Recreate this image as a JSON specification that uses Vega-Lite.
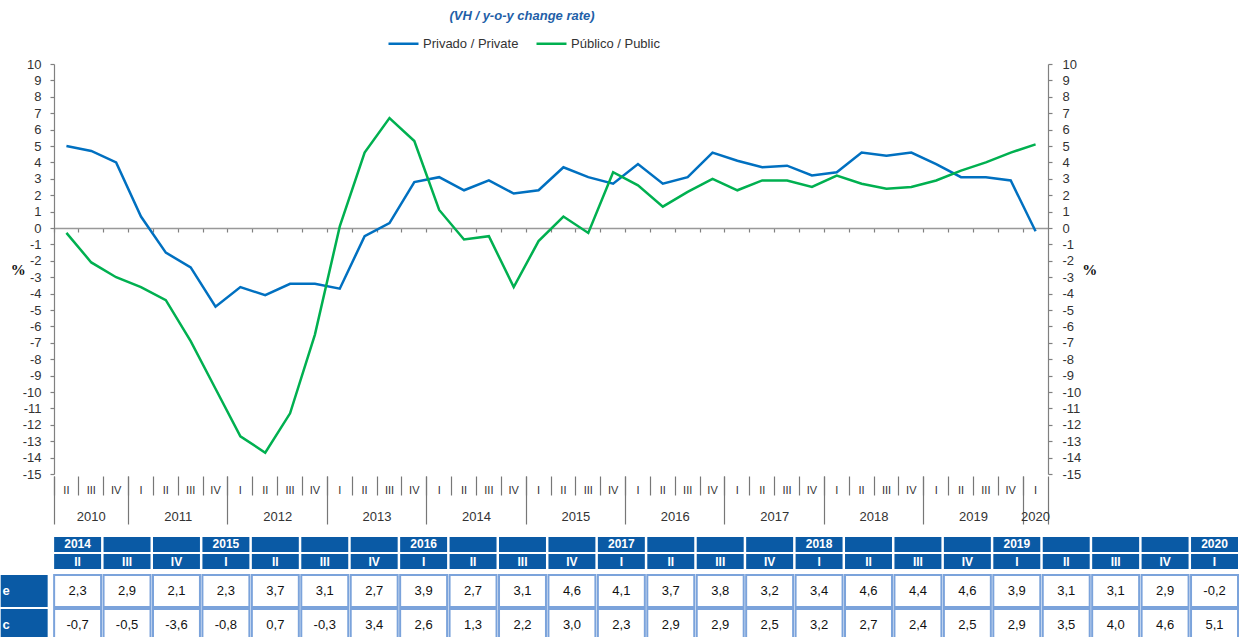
{
  "$schema": "https://vega.github.io/schema/vega-lite/v6.json",
  "padding": {"left": 0, "top": 10, "right": 0, "bottom": 0},
  "config": {
    "locale": {"number": {"decimal": ",", "thousands": ".", "grouping": [3], "currency": ["", " €"], "minus": "-"}},
    "view": {"stroke": null},
    "font": "Liberation Sans"
  },
  "datasets": {
    "lines": [
      {"quarter": "2010 II", "series": "Privado / Private", "value": 5.0},
      {"quarter": "2010 III", "series": "Privado / Private", "value": 4.7},
      {"quarter": "2010 IV", "series": "Privado / Private", "value": 4.0},
      {"quarter": "2011 I", "series": "Privado / Private", "value": 0.7},
      {"quarter": "2011 II", "series": "Privado / Private", "value": -1.5},
      {"quarter": "2011 III", "series": "Privado / Private", "value": -2.4},
      {"quarter": "2011 IV", "series": "Privado / Private", "value": -4.8},
      {"quarter": "2012 I", "series": "Privado / Private", "value": -3.6},
      {"quarter": "2012 II", "series": "Privado / Private", "value": -4.1},
      {"quarter": "2012 III", "series": "Privado / Private", "value": -3.4},
      {"quarter": "2012 IV", "series": "Privado / Private", "value": -3.4},
      {"quarter": "2013 I", "series": "Privado / Private", "value": -3.7},
      {"quarter": "2013 II", "series": "Privado / Private", "value": -0.5},
      {"quarter": "2013 III", "series": "Privado / Private", "value": 0.3},
      {"quarter": "2013 IV", "series": "Privado / Private", "value": 2.8},
      {"quarter": "2014 I", "series": "Privado / Private", "value": 3.1},
      {"quarter": "2014 II", "series": "Privado / Private", "value": 2.3},
      {"quarter": "2014 III", "series": "Privado / Private", "value": 2.9},
      {"quarter": "2014 IV", "series": "Privado / Private", "value": 2.1},
      {"quarter": "2015 I", "series": "Privado / Private", "value": 2.3},
      {"quarter": "2015 II", "series": "Privado / Private", "value": 3.7},
      {"quarter": "2015 III", "series": "Privado / Private", "value": 3.1},
      {"quarter": "2015 IV", "series": "Privado / Private", "value": 2.7},
      {"quarter": "2016 I", "series": "Privado / Private", "value": 3.9},
      {"quarter": "2016 II", "series": "Privado / Private", "value": 2.7},
      {"quarter": "2016 III", "series": "Privado / Private", "value": 3.1},
      {"quarter": "2016 IV", "series": "Privado / Private", "value": 4.6},
      {"quarter": "2017 I", "series": "Privado / Private", "value": 4.1},
      {"quarter": "2017 II", "series": "Privado / Private", "value": 3.7},
      {"quarter": "2017 III", "series": "Privado / Private", "value": 3.8},
      {"quarter": "2017 IV", "series": "Privado / Private", "value": 3.2},
      {"quarter": "2018 I", "series": "Privado / Private", "value": 3.4},
      {"quarter": "2018 II", "series": "Privado / Private", "value": 4.6},
      {"quarter": "2018 III", "series": "Privado / Private", "value": 4.4},
      {"quarter": "2018 IV", "series": "Privado / Private", "value": 4.6},
      {"quarter": "2019 I", "series": "Privado / Private", "value": 3.9},
      {"quarter": "2019 II", "series": "Privado / Private", "value": 3.1},
      {"quarter": "2019 III", "series": "Privado / Private", "value": 3.1},
      {"quarter": "2019 IV", "series": "Privado / Private", "value": 2.9},
      {"quarter": "2020 I", "series": "Privado / Private", "value": -0.2},
      {"quarter": "2010 II", "series": "Público / Public", "value": -0.3},
      {"quarter": "2010 III", "series": "Público / Public", "value": -2.1},
      {"quarter": "2010 IV", "series": "Público / Public", "value": -3.0},
      {"quarter": "2011 I", "series": "Público / Public", "value": -3.6},
      {"quarter": "2011 II", "series": "Público / Public", "value": -4.4},
      {"quarter": "2011 III", "series": "Público / Public", "value": -6.9},
      {"quarter": "2011 IV", "series": "Público / Public", "value": -9.8},
      {"quarter": "2012 I", "series": "Público / Public", "value": -12.7},
      {"quarter": "2012 II", "series": "Público / Public", "value": -13.7},
      {"quarter": "2012 III", "series": "Público / Public", "value": -11.3},
      {"quarter": "2012 IV", "series": "Público / Public", "value": -6.5},
      {"quarter": "2013 I", "series": "Público / Public", "value": 0.1},
      {"quarter": "2013 II", "series": "Público / Public", "value": 4.6},
      {"quarter": "2013 III", "series": "Público / Public", "value": 6.7},
      {"quarter": "2013 IV", "series": "Público / Public", "value": 5.3},
      {"quarter": "2014 I", "series": "Público / Public", "value": 1.1},
      {"quarter": "2014 II", "series": "Público / Public", "value": -0.7},
      {"quarter": "2014 III", "series": "Público / Public", "value": -0.5},
      {"quarter": "2014 IV", "series": "Público / Public", "value": -3.6},
      {"quarter": "2015 I", "series": "Público / Public", "value": -0.8},
      {"quarter": "2015 II", "series": "Público / Public", "value": 0.7},
      {"quarter": "2015 III", "series": "Público / Public", "value": -0.3},
      {"quarter": "2015 IV", "series": "Público / Public", "value": 3.4},
      {"quarter": "2016 I", "series": "Público / Public", "value": 2.6},
      {"quarter": "2016 II", "series": "Público / Public", "value": 1.3},
      {"quarter": "2016 III", "series": "Público / Public", "value": 2.2},
      {"quarter": "2016 IV", "series": "Público / Public", "value": 3.0},
      {"quarter": "2017 I", "series": "Público / Public", "value": 2.3},
      {"quarter": "2017 II", "series": "Público / Public", "value": 2.9},
      {"quarter": "2017 III", "series": "Público / Public", "value": 2.9},
      {"quarter": "2017 IV", "series": "Público / Public", "value": 2.5},
      {"quarter": "2018 I", "series": "Público / Public", "value": 3.2},
      {"quarter": "2018 II", "series": "Público / Public", "value": 2.7},
      {"quarter": "2018 III", "series": "Público / Public", "value": 2.4},
      {"quarter": "2018 IV", "series": "Público / Public", "value": 2.5},
      {"quarter": "2019 I", "series": "Público / Public", "value": 2.9},
      {"quarter": "2019 II", "series": "Público / Public", "value": 3.5},
      {"quarter": "2019 III", "series": "Público / Public", "value": 4.0},
      {"quarter": "2019 IV", "series": "Público / Public", "value": 4.6},
      {"quarter": "2020 I", "series": "Público / Public", "value": 5.1}
    ],
    "hdr": [
      {"quarter": "2014 II", "yr": "2014", "q": "II"},
      {"quarter": "2014 III", "yr": "", "q": "III"},
      {"quarter": "2014 IV", "yr": "", "q": "IV"},
      {"quarter": "2015 I", "yr": "2015", "q": "I"},
      {"quarter": "2015 II", "yr": "", "q": "II"},
      {"quarter": "2015 III", "yr": "", "q": "III"},
      {"quarter": "2015 IV", "yr": "", "q": "IV"},
      {"quarter": "2016 I", "yr": "2016", "q": "I"},
      {"quarter": "2016 II", "yr": "", "q": "II"},
      {"quarter": "2016 III", "yr": "", "q": "III"},
      {"quarter": "2016 IV", "yr": "", "q": "IV"},
      {"quarter": "2017 I", "yr": "2017", "q": "I"},
      {"quarter": "2017 II", "yr": "", "q": "II"},
      {"quarter": "2017 III", "yr": "", "q": "III"},
      {"quarter": "2017 IV", "yr": "", "q": "IV"},
      {"quarter": "2018 I", "yr": "2018", "q": "I"},
      {"quarter": "2018 II", "yr": "", "q": "II"},
      {"quarter": "2018 III", "yr": "", "q": "III"},
      {"quarter": "2018 IV", "yr": "", "q": "IV"},
      {"quarter": "2019 I", "yr": "2019", "q": "I"},
      {"quarter": "2019 II", "yr": "", "q": "II"},
      {"quarter": "2019 III", "yr": "", "q": "III"},
      {"quarter": "2019 IV", "yr": "", "q": "IV"},
      {"quarter": "2020 I", "yr": "2020", "q": "I"}
    ],
    "lbl": [
      {"quarter": "label", "series": "Privado / Private"},
      {"quarter": "label", "series": "Público / Public"}
    ]
  },
  "spacing": 12,
  "vconcat": [
    {
      "width": 994,
      "height": 410,
      "title": {"text": "(VH / y-o-y change rate)", "anchor": "middle", "frame": "group", "dx": -29, "offset": 35, "fontSize": 13, "font": "Liberation Sans", "color": "#1f5fa8", "fontStyle": "italic", "fontWeight": "bold"},
      "data": {"name": "lines"},
      "resolve": {"axis": {"x": "independent", "y": "independent"}},
      "layer": [
        {
          "mark": {"type": "line", "strokeWidth": 2.5},
          "encoding": {
            "x": {"field": "quarter", "type": "ordinal", "sort": null, "bandPosition": 0.5,
              "scale": {"type": "band", "paddingInner": 0, "paddingOuter": 0, "domain": ["2010 II","2010 III","2010 IV","2011 I","2011 II","2011 III","2011 IV","2012 I","2012 II","2012 III","2012 IV","2013 I","2013 II","2013 III","2013 IV","2014 I","2014 II","2014 III","2014 IV","2015 I","2015 II","2015 III","2015 IV","2016 I","2016 II","2016 III","2016 IV","2017 I","2017 II","2017 III","2017 IV","2018 I","2018 II","2018 III","2018 IV","2019 I","2019 II","2019 III","2019 IV","2020 I"]},
              "axis": {"orient": "bottom", "offset": 2, "domain": false, "grid": false, "title": null, "bandPosition": 0, "ticks": true, "tickSize": 19, "tickColor": "#777777", "tickWidth": 1.2, "labelExpr": "split(datum.value, ' ')[1]", "labelAngle": 0, "labelOverlap": false, "labelFontSize": 11, "labelColor": "#333333", "labelFont": "Liberation Sans", "labelBaseline": "middle", "labelPadding": -5}},
            "y": {"field": "value", "type": "quantitative", "scale": {"domain": [-15, 10], "nice": false, "zero": false},
              "axis": {"orient": "left", "values": [-15,-14,-13,-12,-11,-10,-9,-8,-7,-6,-5,-4,-3,-2,-1,0,1,2,3,4,5,6,7,8,9,10], "format": "d", "grid": false, "domainColor": "#808080", "domainWidth": 1.2, "tickColor": "#808080", "tickSize": 4, "tickWidth": 1.2, "labelPadding": 9, "labelFontSize": 13, "labelColor": "#333333", "labelFont": "Liberation Sans", "labelOverlap": false,
                "title": "%", "titleAngle": 0, "titleFont": "Liberation Serif", "titleFontWeight": "bold", "titleFontSize": 15, "titleColor": "#111111", "titleAlign": "right", "titleBaseline": "middle", "titlePadding": -3,
                "encode": {"ticks": {"update": {"x": {"value": 4}}}}}},
            "color": {"field": "series", "type": "nominal",
              "scale": {"domain": ["Privado / Private", "Público / Public"], "range": ["#0070C0", "#00B050"]},
              "legend": {"orient": "none", "legendX": 333, "legendY": -37, "direction": "horizontal", "title": null, "symbolType": "stroke", "symbolSize": 900, "symbolStrokeWidth": 2.5, "labelFontSize": 13, "labelColor": "#333333", "labelFont": "Liberation Sans", "labelOffset": 3, "columnPadding": 12}}
          }
        },
        {
          "mark": {"type": "point", "opacity": 0},
          "encoding": {
            "x": {"field": "quarter", "type": "ordinal", "sort": null, "bandPosition": 0.5,
              "scale": {"type": "band", "paddingInner": 0, "paddingOuter": 0},
              "axis": {"orient": "bottom", "offset": -246, "domain": true, "domainColor": "#999999", "domainWidth": 1.5, "grid": false, "title": null, "bandPosition": 0, "ticks": true, "tickSize": 4, "tickColor": "#808080", "tickWidth": 1.2, "labels": false}},
            "y": {"field": "value", "type": "quantitative", "scale": {"domain": [-15, 10], "nice": false, "zero": false},
              "axis": {"orient": "right", "values": [-15,-14,-13,-12,-11,-10,-9,-8,-7,-6,-5,-4,-3,-2,-1,0,1,2,3,4,5,6,7,8,9,10], "format": "d", "grid": false, "domainColor": "#808080", "domainWidth": 1.2, "tickColor": "#808080", "tickSize": 4, "tickWidth": 1.2, "labelPadding": 10, "labelFontSize": 13, "labelColor": "#333333", "labelFont": "Liberation Sans", "labelOverlap": false,
                "title": "%", "titleAngle": 0, "titleFont": "Liberation Serif", "titleFontWeight": "bold", "titleFontSize": 15, "titleColor": "#111111", "titleAlign": "left", "titleBaseline": "middle", "titlePadding": 1,
                "encode": {"ticks": {"update": {"x": {"value": -4}}}}}}
          }
        },
        {
          "mark": {"type": "point", "opacity": 0},
          "encoding": {
            "x": {"field": "quarter", "type": "ordinal", "sort": null, "bandPosition": 0.5,
              "scale": {"type": "band", "paddingInner": 0, "paddingOuter": 0},
              "axis": {"orient": "bottom", "offset": 2, "domain": false, "grid": false, "title": null, "bandPosition": 0, "values": ["2010 II","2011 I","2012 I","2013 I","2014 I","2015 I","2016 I","2017 I","2018 I","2019 I","2020 I"], "ticks": true, "tickSize": 48, "tickColor": "#777777", "tickWidth": 1.2, "labels": false}},
            "y": {"field": "value", "type": "quantitative", "scale": {"domain": [-15, 10], "nice": false, "zero": false},
              "axis": {"orient": "left", "offset": 53, "domain": true, "domainOpacity": 0, "ticks": false, "labels": false, "grid": false, "title": null}}
          }
        },
        {
          "mark": {"type": "point", "opacity": 0},
          "encoding": {
            "x": {"field": "quarter", "type": "ordinal", "sort": null, "bandPosition": 0.5,
              "scale": {"type": "band", "paddingInner": 0, "paddingOuter": 0},
              "axis": {"orient": "bottom", "offset": 2, "domain": false, "grid": false, "title": null, "bandPosition": 1, "values": ["2020 I"], "ticks": true, "tickSize": 48, "tickColor": "#777777", "tickWidth": 1.2, "labels": false}},
            "y": {"field": "value", "type": "quantitative", "scale": {"domain": [-15, 10], "nice": false, "zero": false}, "axis": null}
          }
        },
        {
          "mark": {"type": "point", "opacity": 0},
          "encoding": {
            "x": {"field": "quarter", "type": "ordinal", "sort": null, "bandPosition": 0.5,
              "scale": {"type": "band", "paddingInner": 0, "paddingOuter": 0},
              "axis": {"orient": "bottom", "offset": 2, "domain": false, "grid": false, "title": null, "ticks": false, "values": ["2011 III","2012 III","2013 III","2014 III","2015 III","2016 III","2017 III","2018 III","2019 III"], "labelExpr": "split(datum.value, ' ')[0]", "labelOffset": -12.425, "labelAngle": 0, "labelOverlap": false, "labelFontSize": 13, "labelColor": "#333333", "labelFont": "Liberation Sans", "labelBaseline": "middle", "labelPadding": 40}},
            "y": {"field": "value", "type": "quantitative", "scale": {"domain": [-15, 10], "nice": false, "zero": false}, "axis": null}
          }
        },
        {
          "mark": {"type": "point", "opacity": 0},
          "encoding": {
            "x": {"field": "quarter", "type": "ordinal", "sort": null, "bandPosition": 0.5,
              "scale": {"type": "band", "paddingInner": 0, "paddingOuter": 0},
              "axis": {"orient": "bottom", "offset": 2, "domain": false, "grid": false, "title": null, "ticks": false, "values": ["2010 III", "2020 I"], "labelExpr": "split(datum.value, ' ')[0]", "labelAngle": 0, "labelOverlap": false, "labelFontSize": 13, "labelColor": "#333333", "labelFont": "Liberation Sans", "labelBaseline": "middle", "labelPadding": 40}},
            "y": {"field": "value", "type": "quantitative", "scale": {"domain": [-15, 10], "nice": false, "zero": false}, "axis": null}
          }
        }
      ]
    },
    {
      "spacing": 6,
      "bounds": "flush",
      "vconcat": [
        {
          "width": 1184,
          "height": 32,
          "data": {"name": "hdr"},
          "layer": [
            {
              "mark": {"type": "rect", "color": "#0a5aa5"},
              "encoding": {
                "x": {"field": "quarter", "type": "ordinal", "sort": null, "axis": null, "scale": {"type": "band", "paddingInner": 0.05, "paddingOuter": 0, "range": [-49.3, 1184], "domain": ["label","2014 II","2014 III","2014 IV","2015 I","2015 II","2015 III","2015 IV","2016 I","2016 II","2016 III","2016 IV","2017 I","2017 II","2017 III","2017 IV","2018 I","2018 II","2018 III","2018 IV","2019 I","2019 II","2019 III","2019 IV","2020 I"]}},
                "y": {"datum": "year", "type": "ordinal", "axis": null, "scale": {"type": "band", "domain": ["year", "quarter"], "paddingInner": 0.12, "paddingOuter": 0}}
              }
            },
            {
              "mark": {"type": "text", "color": "white", "fontWeight": "bold", "fontSize": 12, "font": "Liberation Sans"},
              "encoding": {
                "x": {"field": "quarter", "type": "ordinal", "sort": null, "axis": null, "bandPosition": 0.5, "scale": {"type": "band", "paddingInner": 0.05, "paddingOuter": 0}},
                "y": {"datum": "year", "type": "ordinal", "axis": null, "bandPosition": 0.5, "scale": {"type": "band", "paddingInner": 0.12, "paddingOuter": 0}},
                "text": {"field": "yr"}
              }
            },
            {
              "mark": {"type": "rect", "color": "#0a5aa5"},
              "encoding": {
                "x": {"field": "quarter", "type": "ordinal", "sort": null, "axis": null, "scale": {"type": "band", "paddingInner": 0.05, "paddingOuter": 0}},
                "y": {"datum": "quarter", "type": "ordinal", "axis": null, "scale": {"type": "band", "paddingInner": 0.12, "paddingOuter": 0}}
              }
            },
            {
              "mark": {"type": "text", "color": "white", "fontWeight": "bold", "fontSize": 12, "font": "Liberation Sans"},
              "encoding": {
                "x": {"field": "quarter", "type": "ordinal", "sort": null, "axis": null, "bandPosition": 0.5, "scale": {"type": "band", "paddingInner": 0.05, "paddingOuter": 0}},
                "y": {"datum": "quarter", "type": "ordinal", "axis": null, "bandPosition": 0.5, "scale": {"type": "band", "paddingInner": 0.12, "paddingOuter": 0}},
                "text": {"field": "q"}
              }
            }
          ]
        },
        {
          "width": 1184,
          "height": 66,
          "layer": [
            {
              "data": {"name": "lines"},
              "transform": [{"filter": {"field": "quarter", "oneOf": ["2014 II","2014 III","2014 IV","2015 I","2015 II","2015 III","2015 IV","2016 I","2016 II","2016 III","2016 IV","2017 I","2017 II","2017 III","2017 IV","2018 I","2018 II","2018 III","2018 IV","2019 I","2019 II","2019 III","2019 IV","2020 I"]}}],
              "mark": {"type": "rect", "fill": "white", "stroke": "#7ba3db", "strokeWidth": 2},
              "encoding": {
                "x": {"field": "quarter", "type": "ordinal", "sort": null, "axis": null, "scale": {"type": "band", "paddingInner": 0.05, "paddingOuter": 0, "range": [-49.3, 1184], "domain": ["label","2014 II","2014 III","2014 IV","2015 I","2015 II","2015 III","2015 IV","2016 I","2016 II","2016 III","2016 IV","2017 I","2017 II","2017 III","2017 IV","2018 I","2018 II","2018 III","2018 IV","2019 I","2019 II","2019 III","2019 IV","2020 I"]}},
                "y": {"field": "series", "type": "ordinal", "axis": null, "scale": {"type": "band", "domain": ["Privado / Private", "Público / Public"], "paddingInner": 0.06, "paddingOuter": 0}}
              }
            },
            {
              "data": {"name": "lines"},
              "transform": [{"filter": {"field": "quarter", "oneOf": ["2014 II","2014 III","2014 IV","2015 I","2015 II","2015 III","2015 IV","2016 I","2016 II","2016 III","2016 IV","2017 I","2017 II","2017 III","2017 IV","2018 I","2018 II","2018 III","2018 IV","2019 I","2019 II","2019 III","2019 IV","2020 I"]}}],
              "mark": {"type": "text", "fontSize": 13, "color": "#111111", "font": "Liberation Sans"},
              "encoding": {
                "x": {"field": "quarter", "type": "ordinal", "sort": null, "axis": null, "bandPosition": 0.5, "scale": {"type": "band", "paddingInner": 0.05, "paddingOuter": 0}},
                "y": {"field": "series", "type": "ordinal", "axis": null, "bandPosition": 0.5, "scale": {"type": "band", "paddingInner": 0.06, "paddingOuter": 0}},
                "text": {"field": "value", "type": "quantitative", "format": ".1f"}
              }
            },
            {
              "data": {"name": "lbl"},
              "mark": {"type": "rect", "color": "#0a5aa5", "xOffset": -4},
              "encoding": {
                "x": {"field": "quarter", "type": "ordinal", "sort": null, "axis": null, "scale": {"type": "band", "paddingInner": 0.05, "paddingOuter": 0}},
                "y": {"field": "series", "type": "ordinal", "axis": null, "scale": {"type": "band", "paddingInner": 0.06, "paddingOuter": 0}}
              }
            },
            {
              "data": {"name": "lbl"},
              "mark": {"type": "text", "color": "white", "fontWeight": "bold", "fontSize": 13, "font": "Liberation Sans", "align": "right", "dir": "rtl", "limit": 10, "ellipsis": "\u200b", "dx": 5},
              "encoding": {
                "x": {"field": "quarter", "type": "ordinal", "sort": null, "axis": null, "bandPosition": 0, "scale": {"type": "band", "paddingInner": 0.05, "paddingOuter": 0}},
                "y": {"field": "series", "type": "ordinal", "axis": null, "bandPosition": 0.5, "scale": {"type": "band", "paddingInner": 0.06, "paddingOuter": 0}},
                "text": {"field": "series"}
              }
            }
          ]
        }
      ]
    }
  ]
}
